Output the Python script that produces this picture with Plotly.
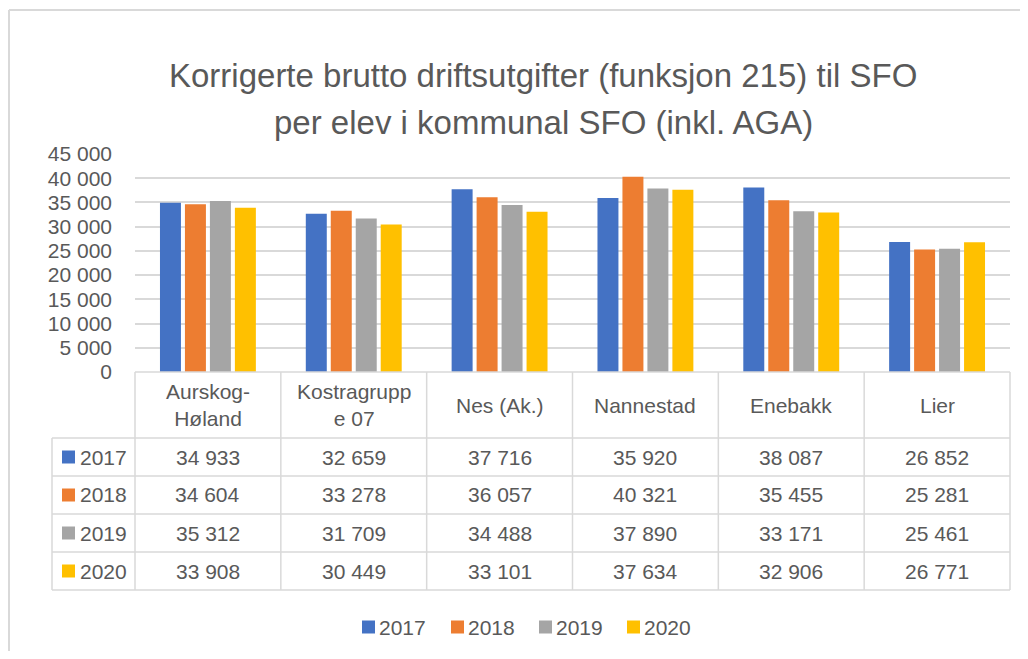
import plotly.graph_objects as go

categories = ["Aurskog-Høland", "Kostragruppe 07", "Nes (Ak.)", "Nannestad", "Enebakk", "Lier"]
header_labels = ["Aurskog-<br>Høland", "Kostragrupp<br>e 07", "Nes (Ak.)", "Nannestad", "Enebakk", "Lier"]
years = ["2017", "2018", "2019", "2020"]
v2017 = [34933, 32659, 37716, 35920, 38087, 26852]
v2018 = [34604, 33278, 36057, 40321, 35455, 25281]
v2019 = [35312, 31709, 34488, 37890, 33171, 25461]
v2020 = [33908, 30449, 33101, 37634, 32906, 26771]
series = [v2017, v2018, v2019, v2020]
colors = ["#4472C4", "#ED7D31", "#A5A5A5", "#FFC000"]
title_lines = ["Korrigerte brutto driftsutgifter (funksjon 215) til SFO",
               "per elev i kommunal SFO (inkl. AGA)"]

# page body has an 8px margin; work in reference-screen pixels and shift
OFF = 8
W, H = 1028 - 2 * OFF, 659 - 2 * OFF
L, R, T, B = 135, 1010, 154, 372   # plot area in screen pixels
FONT = "Liberation Sans"
TXT = "#595959"
GRID = "#d9d9d9"

def xp(px):
    return (px - L) / (R - L)

def yp(py):
    return (B - py) / (B - T)

fig = go.Figure()
for yr, vals, c in zip(years, series, colors):
    fig.add_trace(go.Bar(x=categories, y=vals, name=yr, marker_color=c,
                         marker_line_width=0, showlegend=False))

shapes = []
annotations = []

# outer chart border (left & top visible)
shapes.append(dict(type="line", xref="paper", yref="paper", x0=xp(OFF + 1), x1=xp(1030), y0=yp(10), y1=yp(10),
                   line=dict(color=GRID, width=2)))
shapes.append(dict(type="line", xref="paper", yref="paper", x0=xp(OFF + 1), x1=xp(OFF + 1), y0=yp(10), y1=yp(670),
                   line=dict(color=GRID, width=2)))

# table geometry
col_edges = [L + i * (R - L) / 6 for i in range(7)]
row_edges = [372, 438, 476, 514, 552, 590]
left_x = 52

shapes.append(dict(type="line", xref="paper", yref="paper", x0=xp(L), x1=xp(R), y0=yp(372), y1=yp(372),
                   line=dict(color=GRID, width=1.5)))
for ry in row_edges[1:]:
    shapes.append(dict(type="line", xref="paper", yref="paper", x0=xp(left_x), x1=xp(R), y0=yp(ry), y1=yp(ry),
                       line=dict(color=GRID, width=1.5)))
shapes.append(dict(type="line", xref="paper", yref="paper", x0=xp(left_x), x1=xp(left_x), y0=yp(438), y1=yp(590),
                   line=dict(color=GRID, width=1.5)))
for cx in col_edges:
    shapes.append(dict(type="line", xref="paper", yref="paper", x0=xp(cx), x1=xp(cx), y0=yp(372), y1=yp(590),
                       line=dict(color=GRID, width=1.5)))

fs = 21
for i, lab in enumerate(header_labels):
    cx = (col_edges[i] + col_edges[i + 1]) / 2
    annotations.append(dict(xref="paper", yref="paper", x=xp(cx), y=yp(405), text=lab, showarrow=False,
                            xanchor="center", yanchor="middle", font=dict(family=FONT, size=fs, color=TXT)))

def fmt(v):
    return f"{v:,}".replace(",", " ")

for r, (yr, vals, c) in enumerate(zip(years, series, colors)):
    cy = (row_edges[r + 1] + row_edges[r + 2]) / 2
    shapes.append(dict(type="rect", xref="paper", yref="paper", x0=xp(62), x1=xp(75),
                       y0=yp(cy - 6.5), y1=yp(cy + 6.5), fillcolor=c, line=dict(width=0)))
    annotations.append(dict(xref="paper", yref="paper", x=xp(78), y=yp(cy), text=yr, showarrow=False,
                            xanchor="left", yanchor="middle", font=dict(family=FONT, size=fs, color=TXT)))
    for i, v in enumerate(vals):
        cx = (col_edges[i] + col_edges[i + 1]) / 2
        annotations.append(dict(xref="paper", yref="paper", x=xp(cx), y=yp(cy), text=fmt(v), showarrow=False,
                                xanchor="center", yanchor="middle", font=dict(family=FONT, size=fs, color=TXT)))

# legend (bottom, drawn to match the original spacing)
leg_x = [362, 451, 539, 627]
for lx, yr, c in zip(leg_x, years, colors):
    shapes.append(dict(type="rect", xref="paper", yref="paper", x0=xp(lx), x1=xp(lx + 13),
                       y0=yp(627 - 6.5), y1=yp(627 + 6.5), fillcolor=c, line=dict(width=0)))
    annotations.append(dict(xref="paper", yref="paper", x=xp(lx + 15), y=yp(627), text=yr, showarrow=False,
                            xanchor="left", yanchor="middle", font=dict(family=FONT, size=fs, color=TXT)))

# title
for line, ty in zip(title_lines, [75, 122]):
    annotations.append(dict(xref="paper", yref="paper", x=xp(543), y=yp(ty), text=line, showarrow=False,
                            xanchor="center", yanchor="middle", font=dict(family=FONT, size=33, color=TXT)))

fig.update_layout(
    width=W, height=H,
    margin=dict(l=L - OFF, r=(W + OFF) - R, t=T - OFF, b=(H + OFF) - B, pad=0),
    paper_bgcolor="white", plot_bgcolor="white",
    separators=", ",
    barmode="group", bargap=0.315, bargroupgap=0.16,
    showlegend=False,
    shapes=shapes, annotations=annotations,
    font=dict(family=FONT, color=TXT),
)
fig.update_xaxes(showticklabels=False, showgrid=False, showline=False, zeroline=False)
fig.update_yaxes(range=[0, 45000], dtick=5000, tickformat=",d", showgrid=True, gridcolor=GRID, gridwidth=1.5,
                 zeroline=False, showline=False, ticks="", ticklabelstandoff=22,
                 tickfont=dict(family=FONT, size=fs, color=TXT))

fig.write_html("out.html")
